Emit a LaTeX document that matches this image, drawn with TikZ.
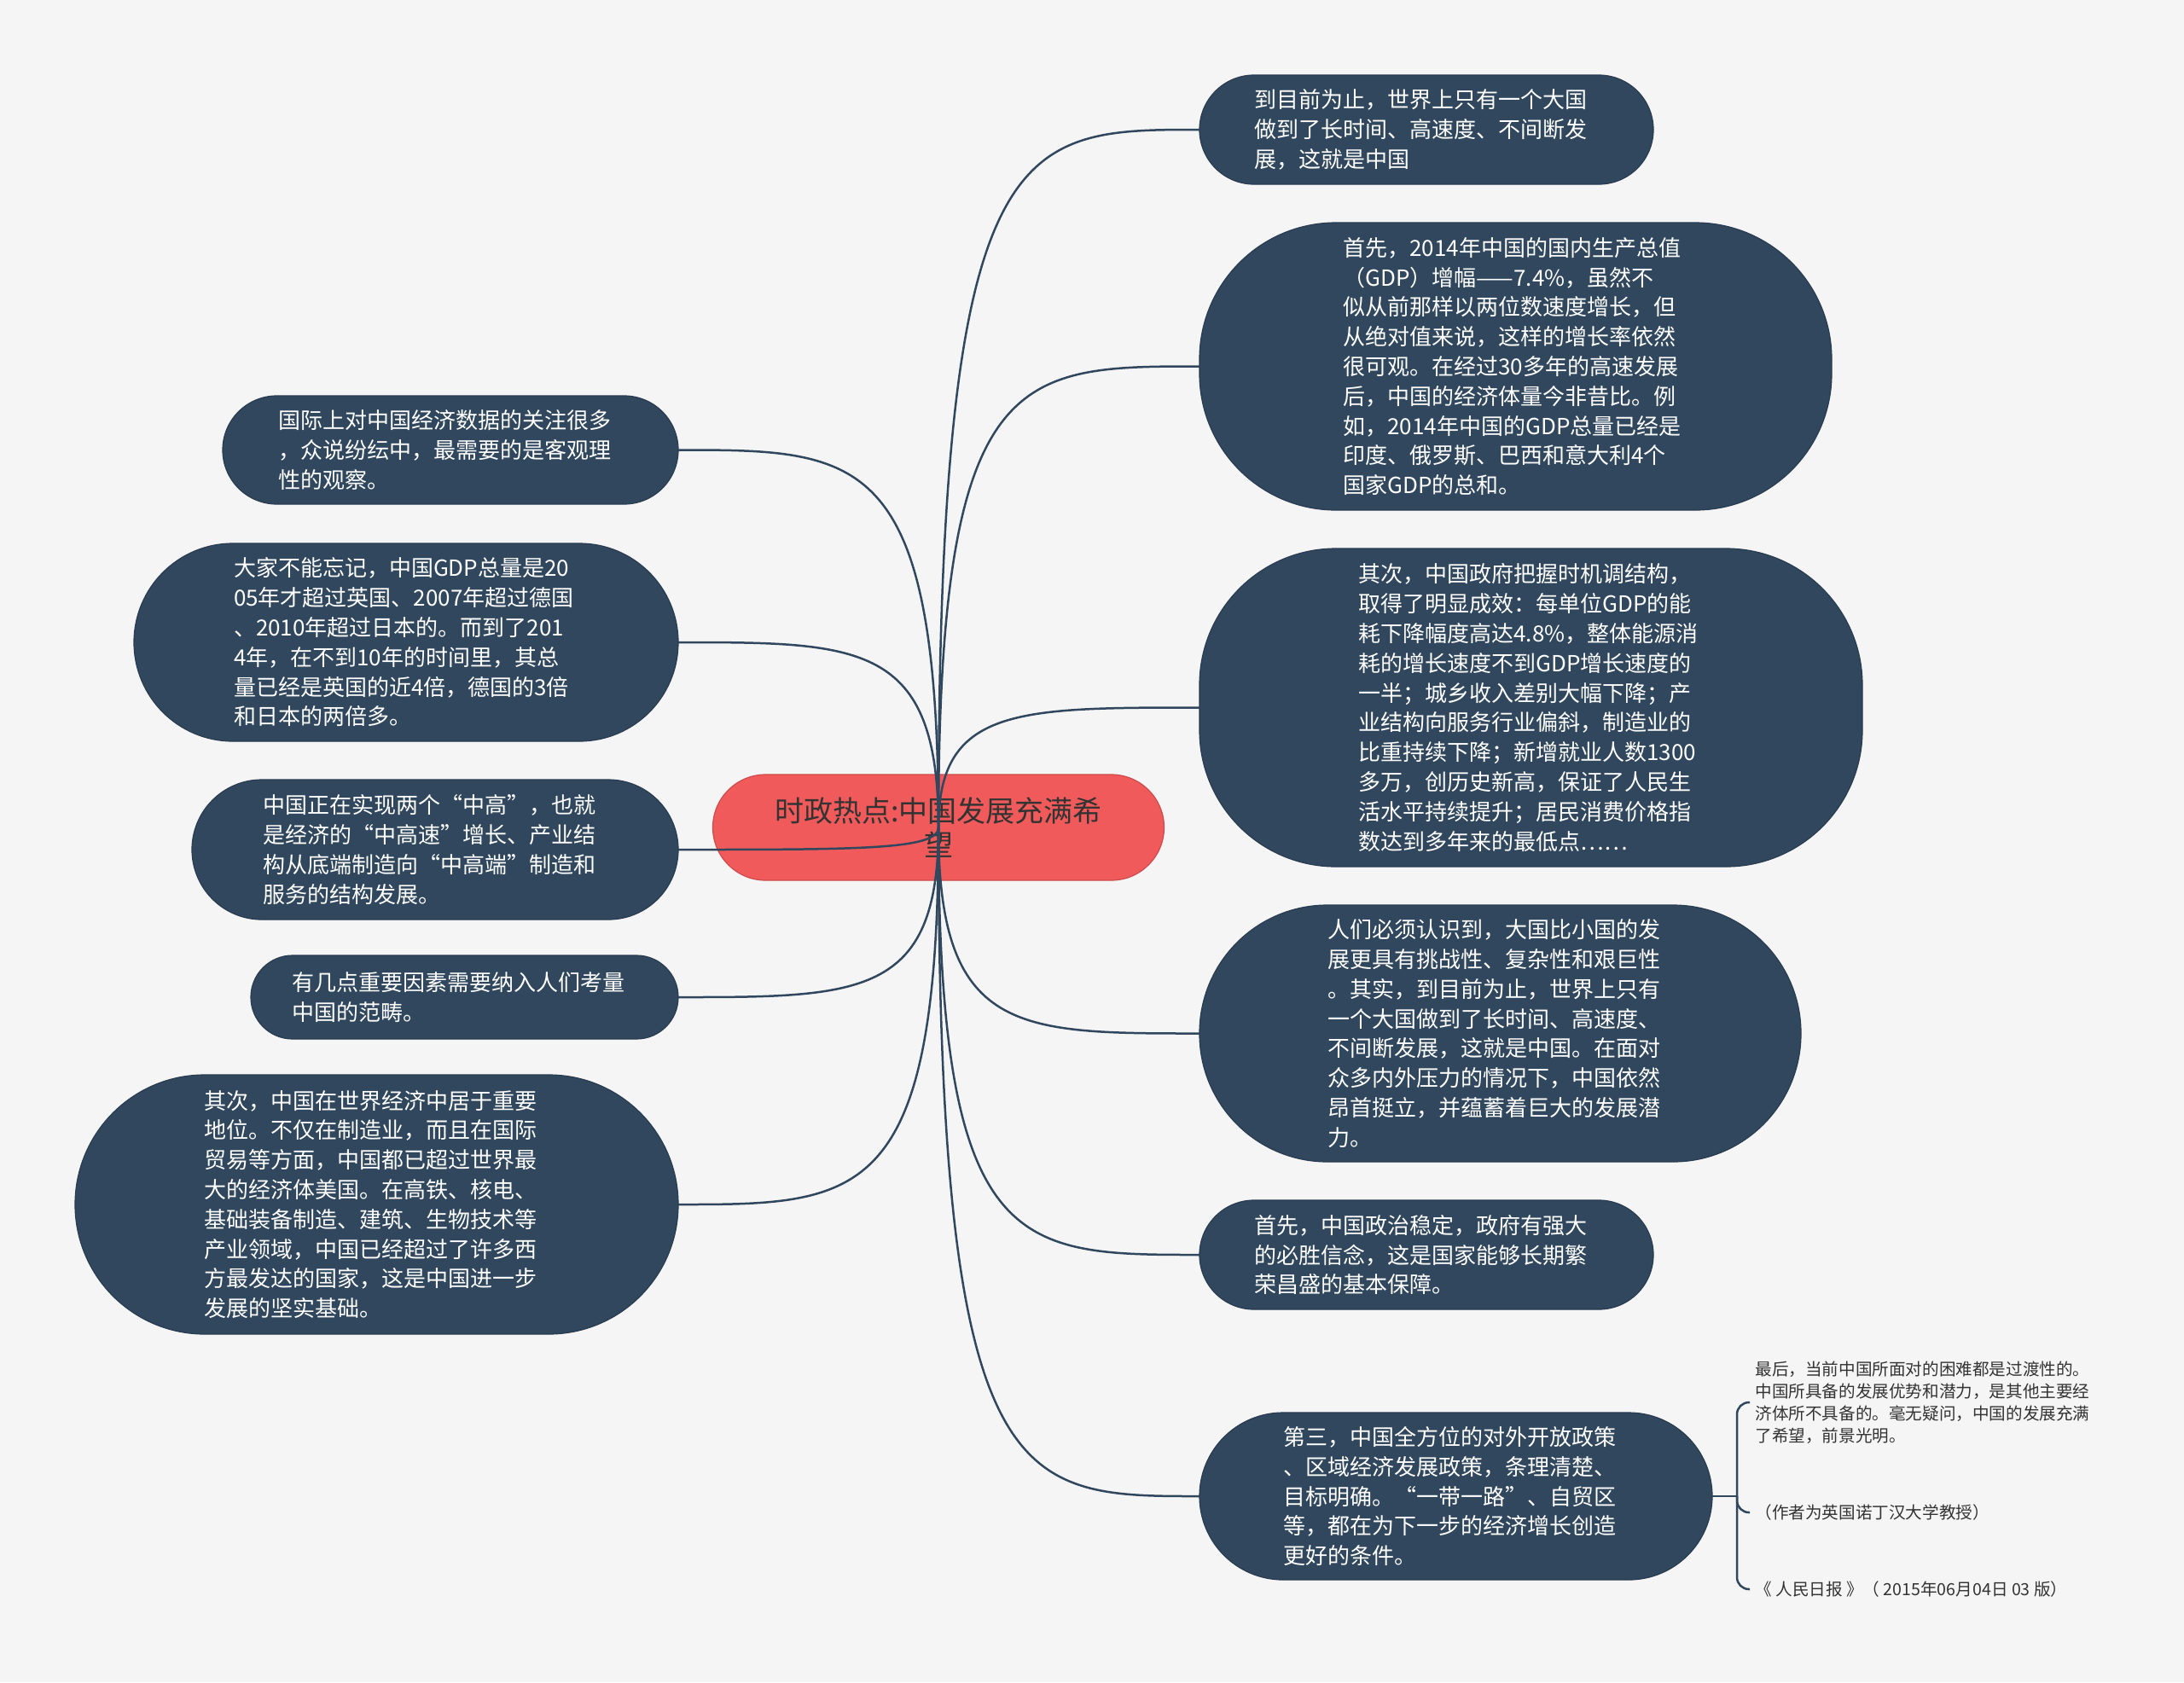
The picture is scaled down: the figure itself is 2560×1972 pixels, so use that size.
\documentclass[tikz,border=0pt]{standalone}
\usepackage{fontspec}
\newfontfamily\cjk{Noto Sans CJK SC}
\usepackage{tikz}
\usetikzlibrary{calc}
\definecolor{cbleu}{HTML}{30475E}
\definecolor{crouge}{HTML}{F05A5A}
\definecolor{cfond}{HTML}{F5F5F5}
\definecolor{ctexte}{HTML}{333333}

\begin{document}
\begin{tikzpicture}[x=0.5pt, y=-0.5pt,
  topic/.style n args={3}{anchor=north west, fill=cbleu, draw=cbleu!85!black, line width=0.6pt,
    text=white, align=left, text width=202pt, inner sep=0pt, outer sep=0pt,
    font=\cjk\fontsize{13pt}{17.4pt}\selectfont,
    minimum width=#1, minimum height=#2, rounded corners=#3},
  central/.style={fill=crouge, draw=crouge!85!black, line width=0.6pt, text=ctexte, align=center,
    minimum width=264.5pt, minimum height=62pt, rounded corners=31pt,
    font=\cjk\fontsize{17pt}{20pt}\selectfont},
  note/.style={anchor=west, align=left, text=ctexte, inner xsep=3pt,
    font=\cjk\fontsize{9.8pt}{13pt}\selectfont},
  link/.style={cbleu, line width=1.25pt}]
\useasboundingbox (0,0) rectangle (2560,1972);
\fill[cfond] (0,0) rectangle (2560,1972);

\node[central] (centre) at (1100,970) {时政热点:中国发展充满希\\望};

% right side
\node[topic={266pt}{64pt}{32pt}] (r1) at (1406,88) {到目前为止，世界上只有一个大国\\做到了长时间、高速度、不间断发\\展，这就是中国};
\node[topic={370.5pt}{168.5pt}{80pt}] (r2) at (1406,261) {首先，2014年中国的国内生产总值\\（GDP）增幅——7.4\%，虽然不\\似从前那样以两位数速度增长，但\\从绝对值来说，这样的增长率依然\\很可观。在经过30多年的高速发展\\后，中国的经济体量今非昔比。例\\如，2014年中国的GDP总量已经是\\印度、俄罗斯、巴西和意大利4个\\国家GDP的总和。};
\node[topic={388.5pt}{186.5pt}{80pt}] (r3) at (1406,643) {其次，中国政府把握时机调结构，\\取得了明显成效：每单位GDP的能\\耗下降幅度高达4.8\%，整体能源消\\耗的增长速度不到GDP增长速度的\\一半；城乡收入差别大幅下降；产\\业结构向服务行业偏斜，制造业的\\比重持续下降；新增就业人数1300\\多万，创历史新高，保证了人民生\\活水平持续提升；居民消费价格指\\数达到多年来的最低点……};
\node[topic={352.5pt}{150.5pt}{75pt}] (r4) at (1406,1061) {人们必须认识到，大国比小国的发\\展更具有挑战性、复杂性和艰巨性\\。其实，到目前为止，世界上只有\\一个大国做到了长时间、高速度、\\不间断发展，这就是中国。在面对\\众多内外压力的情况下，中国依然\\昂首挺立，并蕴蓄着巨大的发展潜\\力。};
\node[topic={266pt}{64pt}{32pt}] (r5) at (1406,1407) {首先，中国政治稳定，政府有强大\\的必胜信念，这是国家能够长期繁\\荣昌盛的基本保障。};
\node[topic={300.5pt}{98pt}{49pt}] (r6) at (1406,1656) {第三，中国全方位的对外开放政策\\、区域经济发展政策，条理清楚、\\目标明确。“一带一路”、自贸区\\等，都在为下一步的经济增长创造\\更好的条件。};

% left side
\node[topic={267pt}{63.5pt}{31.75pt}] (l1) at (261,464) {国际上对中国经济数据的关注很多\\，众说纷纭中，最需要的是客观理\\性的观察。};
\node[topic={319pt}{116pt}{58pt}] (l2) at (157,637) {大家不能忘记，中国GDP总量是20\\05年才超过英国、2007年超过德国\\、2010年超过日本的。而到了201\\4年，在不到10年的时间里，其总\\量已经是英国的近4倍，德国的3倍\\和日本的两倍多。};
\node[topic={285pt}{82pt}{41pt}] (l3) at (225,914) {中国正在实现两个“中高”，也就\\是经济的“中高速”增长、产业结\\构从底端制造向“中高端”制造和\\服务的结构发展。};
\node[topic={250.5pt}{49pt}{24.5pt}] (l4) at (294,1120) {有几点重要因素需要纳入人们考量\\中国的范畴。};
\node[topic={353.5pt}{152pt}{76pt}] (l5) at (88,1260) {其次，中国在世界经济中居于重要\\地位。不仅在制造业，而且在国际\\贸易等方面，中国都已超过世界最\\大的经济体美国。在高铁、核电、\\基础装备制造、建筑、生物技术等\\产业领域，中国已经超过了许多西\\方最发达的国家，这是中国进一步\\发展的坚实基础。};

% notes behind r6
\node[note] (n1) at (2051,1644) {最后，当前中国所面对的困难都是过渡性的。\\中国所具备的发展优势和潜力，是其他主要经\\济体所不具备的。毫无疑问，中国的发展充满\\了希望，前景光明。};
\node[note] (n2) at (2051,1773) {（作者为英国诺丁汉大学教授）};
\node[note] (n3) at (2051,1863) {《 人民日报 》（ 2015年06月04日 03 版）};

\foreach \n/\a in {r1/west,r2/west,r3/west,r4/west,r5/west,r6/west,l1/east,l2/east,l3/east,l4/east,l5/east}
  \draw[link] (centre.center) .. controls (centre.center |- \n.\a) and ($(centre.center |- \n.\a)!0.3!(\n.\a)$) .. (\n.\a);

\coordinate (fork) at (2036,1754);
\draw[link] (r6.east) -- (fork);
\foreach \n in {n1,n2,n3}
  \draw[link, rounded corners=7pt] (fork) |- (\n.west);
\end{tikzpicture}
\end{document}
